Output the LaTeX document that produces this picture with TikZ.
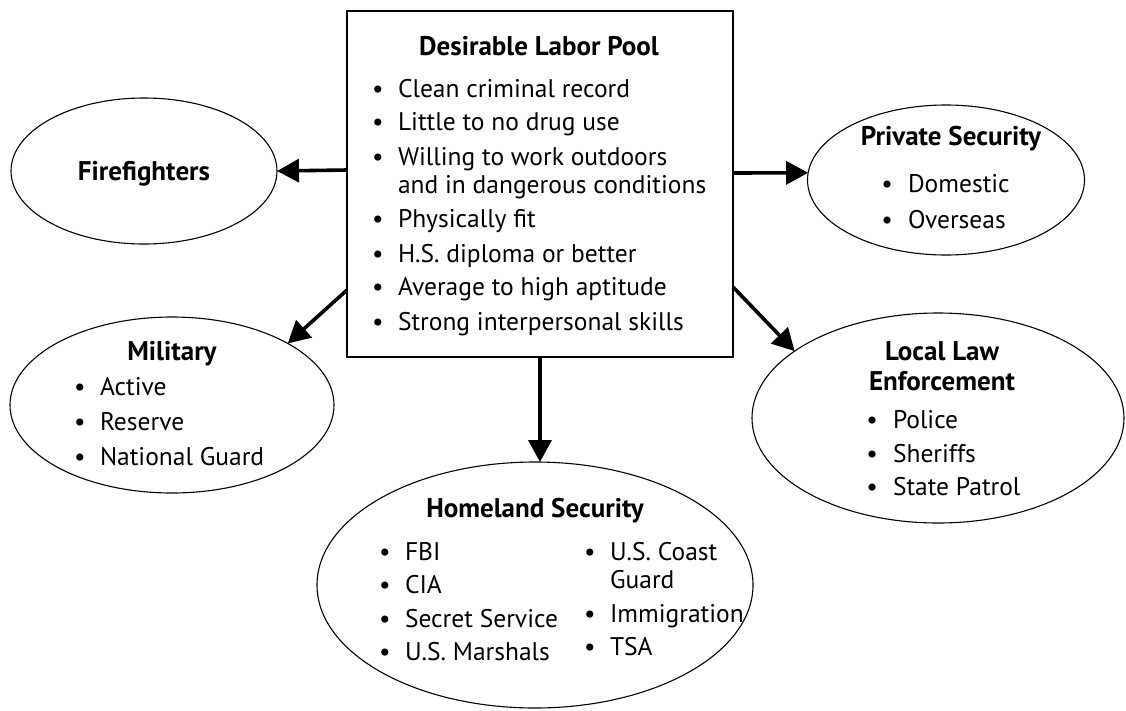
\documentclass[tikz,border=0pt]{standalone}
\usepackage{fontspec}
\setmainfont{PT Sans}
\usetikzlibrary{shapes.geometric,arrows.meta}
\newcommand\myitem[5]{%
  \node[bul] (#1b) at (#2,#4) {\textbullet};
  \node[itm] (#1) at (#3,#4) {#5};}
\begin{document}
\begin{tikzpicture}[x=1pt,y=-1pt,
  every node/.style={inner sep=0pt, outer sep=0pt},
  ttl/.style={font=\fontsize{27}{30}\selectfont\bfseries, anchor=base},
  itm/.style={font=\fontsize{25.5}{30}\selectfont, anchor=base west},
  bul/.style={font=\fontsize{25.5}{30}\selectfont, anchor=base},
  oval/.style={draw, ellipse, line width=1.1pt},
  arr/.style={line width=3.6pt, -{Triangle[length=22pt,width=23pt]}}]
\useasboundingbox (0,0) rectangle (1126,710);
% central box
\node[draw, line width=1.8pt, minimum width=386pt, minimum height=346pt] (box) at (540,184) {};
\node[ttl] (boxt) at (539,55) {Desirable Labor Pool};
\myitem{p1}{378}{398}{97}{Clean criminal record}
\myitem{p2}{378}{398}{130}{Little to no drug use}
\myitem{p3}{378}{398}{165}{Willing to work outdoors}
\node[itm] (p3b2) at (398,193) {and in dangerous conditions};
\myitem{p4}{378}{398}{227}{Physically fit}
\myitem{p5}{378}{398}{262}{H.S. diploma or better}
\myitem{p6}{378}{398}{295}{Average to high aptitude}
\myitem{p7}{378}{398}{330}{Strong interpersonal skills}
% ellipses
\node[oval, minimum width=266pt, minimum height=146pt] (ff) at (144,171) {};
\node[ttl] (fft) at (144,180) {Firefighters};
\node[oval, minimum width=277pt, minimum height=150pt] (ps) at (946,180) {};
\node[ttl] (pst) at (951,145) {Private Security};
\myitem{ps1}{887}{908}{192}{Domestic}
\myitem{ps2}{887}{908}{228}{Overseas}
\node[oval, minimum width=324pt, minimum height=176pt] (mil) at (172,405) {};
\node[ttl] (milt) at (172,360) {Military};
\myitem{m1}{80}{100}{395}{Active}
\myitem{m2}{80}{100}{430}{Reserve}
\myitem{m3}{80}{100}{465}{National Guard}
\node[oval, minimum width=372pt, minimum height=210pt] (lle) at (938,418) {};
\node[ttl] (llet1) at (942,360) {Local Law};
\node[ttl] (llet2) at (942,390) {Enforcement};
\myitem{l1}{872}{893}{428}{Police}
\myitem{l2}{872}{893}{462}{Sheriffs}
\myitem{l3}{872}{893}{495}{State Patrol}
\node[oval, minimum width=436pt, minimum height=246pt] (hs) at (535,585) {};
\node[ttl] (hst) at (535,517) {Homeland Security};
\myitem{h1}{385}{405}{560}{FBI}
\myitem{h2}{385}{405}{593}{CIA}
\myitem{h3}{385}{405}{627}{Secret Service}
\myitem{h4}{385}{405}{660}{U.S. Marshals}
\myitem{h5}{590}{610}{560}{U.S. Coast}
\node[itm] (h5b) at (610,588) {Guard};
\myitem{h6}{590}{610}{622}{Immigration}
\myitem{h7}{590}{610}{655}{TSA}
% arrows
\draw[arr] ([yshift=14pt]box.west) -- (ff.east);
\draw[arr] ([yshift=11pt]box.east) -- (ps.177);
\draw[arr] ([yshift=67pt]box.south west) -- (mil.28);
\draw[arr] ([yshift=70pt]box.south east) -- (lle.155);
\draw[arr] (box.south) -- (box.south |- hs.north);
\end{tikzpicture}
\end{document}
